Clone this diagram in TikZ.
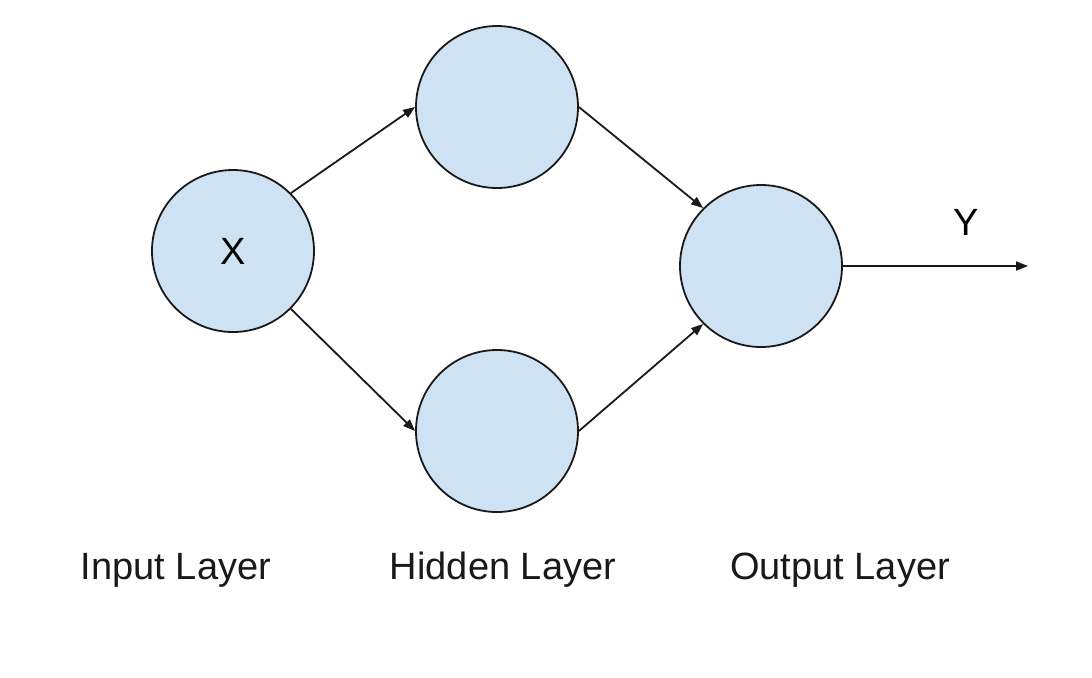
\documentclass[tikz,border=0pt]{standalone}
\usepackage{fontspec}
\setmainfont{Liberation Sans}
\usetikzlibrary{arrows.meta,positioning}
\definecolor{neuronblue}{HTML}{CFE2F3}

\begin{document}
\begin{tikzpicture}[x=0.5pt,y=-0.5pt,on grid,>={Triangle[length=6pt,width=4.5pt]},
  font=\fontsize{19}{23}\selectfont]
  \tikzstyle{neuron}=[circle,draw=black!90,line width=0.9pt,fill=neuronblue,
  		      minimum size=81pt,inner sep=0pt]
  \tikzstyle{connector}=[->,line width=0.9pt,black!90]
  \tikzstyle{layer label}=[anchor=base,inner sep=0pt,black!90]

  \useasboundingbox (0,0) rectangle (1092,677);

  \node [neuron] (x) at (233,251) {X};
  \node [neuron] (h1) [above right=72pt and 132pt of x] {};
  \node [neuron] (h2) [below right=90pt and 132pt of x] {};
  \node [neuron] (out) [below right=79.5pt and 132pt of h1] {};
  \coordinate [right=133.5pt of out] (yend);
  \node (ylabel) [above left=22pt and 31pt of yend,anchor=center] {Y};

  \draw [connector] (x.45) -- (h1.west);
  \draw [connector] (x.-45) -- (h2.west);
  \draw [connector] (h1.east) -- (out.135);
  \draw [connector] (h2.east) -- (out.-135);
  \draw [connector] (out.east) -- (yend);

  \node [layer label] (inlabel) at (176,579) {Input Layer};
  \node [layer label] (hidlabel) at (503,579) {Hidden Layer};
  \node [layer label] (outlabel) at (840,579) {Output Layer};
\end{tikzpicture}
\end{document}
